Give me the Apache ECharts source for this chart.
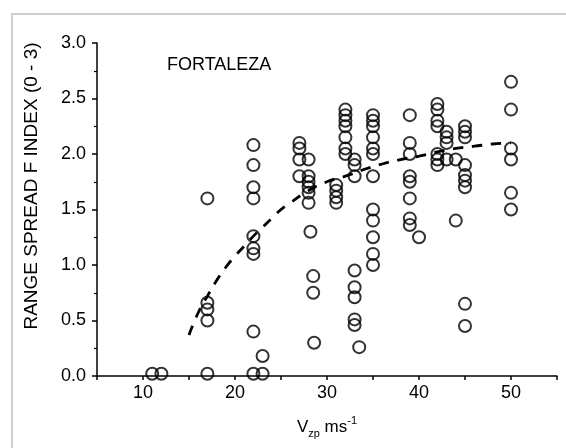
<!DOCTYPE html>
<html>
<head>
<meta charset="utf-8">
<script src="https://cdn.jsdelivr.net/npm/echarts@6/dist/echarts.min.js"></script>
<style>
    html, body {
        margin: 0;
        padding: 0;
        background: #fff;
    }

    .frame {
        position: absolute;
        left: 11px;
        top: 13px;
        width: 600px;
        height: 500px;
        border-left: 2px solid #cfcfcf;
        border-top: 2px solid #cfcfcf;
    }

    #chart {
        position: absolute;
        left: 0;
        top: 0;
        width: 566px;
        height: 448px;
    }
</style>
</head>
<body>
<div class="frame"></div>
<div id="chart"></div>
<script>
// observations: zonal drift velocity (m/s) vs range spread F index
const vzp = [
    11, 12,
    17, 17, 17, 17, 17,
    22, 22, 22, 22, 22, 22, 22, 22, 22,
    23, 23,
    27, 27, 27, 27,
    28, 28, 28, 28, 28, 28,
    28.2, 28.5, 28.5, 28.6,
    31, 31, 31, 31,
    32, 32, 32, 32, 32, 32, 32,
    33, 33, 33, 33, 33, 33, 33, 33,
    33.5,
    35, 35, 35, 35, 35, 35, 35, 35, 35, 35, 35, 35,
    39, 39, 39, 39, 39, 39, 39, 39,
    40,
    42, 42, 42, 42, 42, 42, 42,
    43, 43, 43, 43,
    44, 44,
    45, 45, 45, 45, 45, 45, 45, 45, 45,
    50, 50, 50, 50, 50, 50
]
const rsfIndex = [
    0.02, 0.02,
    0.02, 0.50, 0.60, 0.66, 1.60,
    0.02, 0.40, 1.10, 1.15, 1.26, 1.60, 1.70, 1.90, 2.08,
    0.02, 0.18,
    1.80, 1.95, 2.05, 2.10,
    1.56, 1.65, 1.70, 1.75, 1.80, 1.95,
    1.30, 0.75, 0.90, 0.30,
    1.56, 1.61, 1.67, 1.72,
    2.00, 2.05, 2.15, 2.25, 2.30, 2.35, 2.40,
    0.46, 0.51, 0.71, 0.80, 0.95, 1.80, 1.90, 1.95,
    0.26,
    1.00, 1.10, 1.25, 1.40, 1.50, 1.80, 2.00, 2.05, 2.15, 2.25, 2.30, 2.35,
    1.36, 1.42, 1.60, 1.75, 1.80, 2.00, 2.10, 2.35,
    1.25,
    1.90, 1.95, 2.00, 2.25, 2.30, 2.40, 2.45,
    1.95, 2.10, 2.15, 2.20,
    1.40, 1.95,
    0.45, 0.65, 1.70, 1.76, 1.81, 1.90, 2.15, 2.20, 2.25,
    1.50, 1.65, 1.95, 2.05, 2.40, 2.65
]

// dashed trend curve
const curveV = [15, 16, 17, 18, 19, 20, 21, 22, 23, 24, 25, 26, 28, 30, 32, 34, 36, 38, 40, 42, 44, 46, 48, 50]
const curveF = [0.37, 0.57, 0.72, 0.86, 0.98, 1.08, 1.17, 1.26, 1.34, 1.42, 1.50, 1.56, 1.67, 1.75, 1.80, 1.86, 1.91, 1.95, 1.98, 2.02, 2.05, 2.07, 2.09, 2.10]

const xTicks = [10, 20, 30, 40, 50]

const font = '"Liberation Sans", Arial, sans-serif'
const ink = '#000'

const chart = echarts.init(document.getElementById('chart'))

const option = {
    animation: false,
    title: {
        text: 'FORTALEZA',
        left: 162,
        top: 51,
        textStyle: { fontFamily: font, fontSize: 18, fontWeight: 'normal', color: ink }
    },
    grid: {
        left: 97,
        right: 9,
        top: 43,
        bottom: 72
    },
    xAxis: {
        type: 'value',
        min: 5,
        max: 55,
        interval: 5,
        name: '{v|V}{s|zp}{m| ms}{p|-1}',
        nameLocation: 'middle',
        nameGap: 39,
        nameTextStyle: {
            rich: {
                v: { fontFamily: font, fontSize: 17, color: ink, lineHeight: 24, verticalAlign: 'middle' },
                s: { fontFamily: font, fontSize: 11, color: ink, lineHeight: 24, verticalAlign: 'bottom' },
                m: { fontFamily: font, fontSize: 17, color: ink, lineHeight: 24, verticalAlign: 'middle' },
                p: { fontFamily: font, fontSize: 11, color: ink, lineHeight: 24, verticalAlign: 'top' }
            }
        },
        axisLine: { lineStyle: { color: ink, width: 1.5 } },
        axisTick: { length: 4, lineStyle: { color: ink, width: 1.5 } },
        axisLabel: {
            margin: 8,
            fontFamily: font,
            fontSize: 18,
            color: ink,
            formatter: v => (xTicks.includes(v) ? String(v) : '')
        },
        splitLine: { show: false }
    },
    yAxis: {
        type: 'value',
        min: 0,
        max: 3,
        interval: 0.5,
        axisLine: { show: true, lineStyle: { color: ink, width: 1.5 } },
        axisTick: { show: true, length: 5, lineStyle: { color: ink, width: 1.5 } },
        minorTick: { show: true, splitNumber: 2, length: 3, lineStyle: { color: ink, width: 1.2 } },
        axisLabel: {
            margin: 11,
            fontFamily: font,
            fontSize: 18,
            color: ink,
            formatter: v => v.toFixed(1)
        },
        splitLine: { show: false }
    },
    graphic: [
        {
            type: 'text',
            x: 32,
            y: 186,
            rotation: Math.PI / 2,
            style: {
                text: 'RANGE SPREAD F INDEX (0 - 3)',
                fontFamily: font,
                fontSize: 19,
                fill: ink,
                align: 'center',
                verticalAlign: 'middle'
            }
        }
    ],
    series: [
        {
            type: 'scatter',
            symbol: 'circle',
            symbolSize: 12,
            itemStyle: { color: 'rgba(255,255,255,0)', borderColor: ink, borderWidth: 2 },
            data: vzp.map((v, i) => [v, rsfIndex[i]]),
            z: 3
        },
        {
            type: 'line',
            smooth: true,
            showSymbol: false,
            lineStyle: { color: ink, width: 2.8, type: [10, 9] },
            data: curveV.map((v, i) => [v, curveF[i]]),
            z: 2
        }
    ]
}

chart.setOption(option)
</script>
</body>
</html>
